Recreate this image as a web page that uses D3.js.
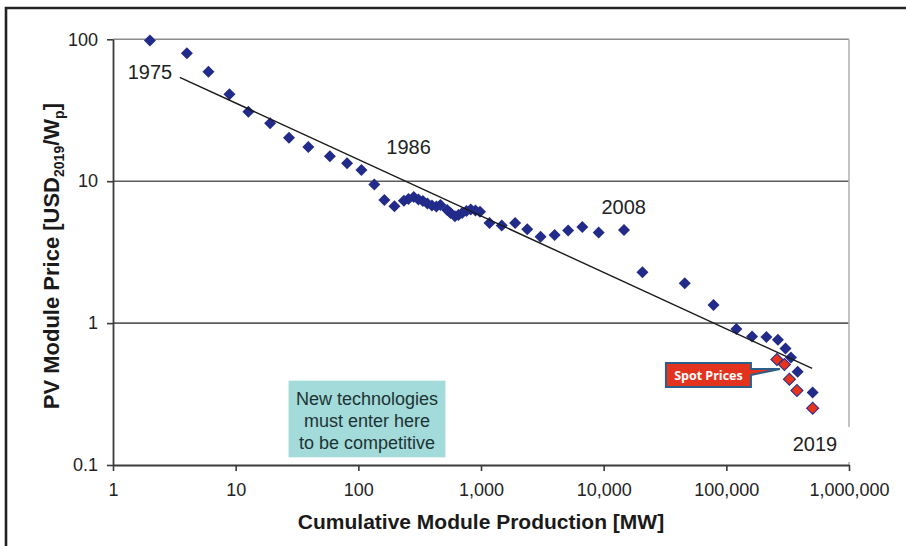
<!DOCTYPE html>
<html>
<head>
<meta charset="utf-8">
<script src="https://cdn.jsdelivr.net/npm/d3@7"></script>
<style>
  html, body { margin: 0; padding: 0; background: #fff; }
  svg { display: block; font-family: "Liberation Sans", Arial, sans-serif; }
</style>
</head>
<body>
<svg id="chart" width="906" height="546"></svg>
<script>
// Cumulative module production [MW] and module price [USD2019/Wp]
const production = [2, 4, 6, 8.9, 12.7, 19.1, 27.2, 39.1, 58.6, 80.9, 106, 135, 163, 197,
  235, 256, 283, 309, 336, 366, 398, 433, 467, 530, 564, 613, 655, 702, 761, 825, 902, 981,
  1173, 1476, 1898, 2383, 3060, 3981, 5131, 6700, 9103, 14640, 20700, 45840, 78630,
  120700, 162100, 212100, 263300, 303600, 336200, 381300, 505400];
const price = [98, 79.7, 59.1, 41.0, 30.9, 25.6, 20.2, 17.4, 15.0, 13.4, 12.0, 9.48, 7.37, 6.65,
  7.28, 7.49, 7.74, 7.43, 7.25, 6.96, 6.74, 6.63, 6.80, 6.27, 5.97, 5.66, 5.78, 5.97, 6.17, 6.31, 6.22, 6.10,
  5.08, 4.87, 5.08, 4.58, 4.06, 4.18, 4.49, 4.76, 4.35, 4.53, 2.28, 1.91, 1.34,
  0.909, 0.805, 0.798, 0.764, 0.662, 0.572, 0.454, 0.324];

// Spot market prices for the most recent years
const spotProduction = [258400, 297500, 326900, 376300, 505400];
const spotPrice = [0.554, 0.511, 0.402, 0.335, 0.251];

// Learning-curve fit (end points)
const fitProduction = [3.5, 500000];
const fitPrice = [54, 0.48];

// Axis ticks
const xTicks = [1, 10, 100, 1000, 10000, 100000, 1000000];
const xTickLabels = ["1", "10", "100", "1,000", "10,000", "100,000", "1,000,000"];
const yTicks = [0.1, 1, 10, 100];
const yTickLabels = ["0.1", "1", "10", "100"];

// Year annotations (anchored in data space)
const yearLabels = ["1975", "1986", "2008", "2019"];
const yearX = [2.0, 257, 14560, 527800];
const yearY = [58.8, 17.5, 6.61, 0.1406];

const svg = d3.select("#chart");
const plotLeft = 113, plotRight = 849, plotTop = 39.3, plotBottom = 465;

const x = d3.scaleLog().domain([1, 1e6]).range([plotLeft, plotRight]);
const y = d3.scaleLog().domain([0.1, 100]).range([plotBottom, plotTop]);

// Outer frame
svg.append("path")
  .attr("d", `M6,546 L6,8 L906,8`)
  .attr("fill", "none").attr("stroke", "#222").attr("stroke-width", 2.6);

// Horizontal gridlines
svg.append("g").selectAll("line").data([1, 10]).join("line")
  .attr("x1", plotLeft).attr("x2", plotRight)
  .attr("y1", d => y(d)).attr("y2", d => y(d))
  .attr("stroke", "#5c5c5c").attr("stroke-width", 1.6);
svg.append("line")
  .attr("x1", plotLeft).attr("x2", plotRight).attr("y1", y(100)).attr("y2", y(100))
  .attr("stroke", "#8a8a8a").attr("stroke-width", 1.6);
// Right plot border
svg.append("line")
  .attr("x1", plotRight).attr("x2", plotRight).attr("y1", y(100)).attr("y2", plotBottom)
  .attr("stroke", "#b4b4b4").attr("stroke-width", 1.6);

// Axes
const yAxis = d3.axisLeft(y).tickValues(yTicks)
  .tickFormat((d, i) => yTickLabels[i]).tickSize(6).tickPadding(9).tickSizeOuter(0);
const gy = svg.append("g").attr("transform", `translate(${plotLeft},0)`).call(yAxis);
const xAxis = d3.axisBottom(x).tickValues(xTicks)
  .tickFormat((d, i) => xTickLabels[i]).tickSize(6).tickPadding(12).tickSizeOuter(0);
const gx = svg.append("g").attr("transform", `translate(0,${plotBottom})`).call(xAxis);
[gx, gy].forEach(g => {
  g.select(".domain").attr("stroke", "#3a3a3a").attr("stroke-width", 1.8);
  g.selectAll(".tick line").attr("stroke", "#3a3a3a").attr("stroke-width", 1.6);
  g.selectAll(".tick text").attr("fill", "#222")
    .style("font-size", "18px").style("font-family", "'Liberation Sans', Arial, sans-serif");
});

// Callout box in the lower left
const boxX0 = x(27), boxX1 = x(513), boxY0 = y(0.393), boxY1 = y(0.1133);
svg.append("rect")
  .attr("x", boxX0).attr("y", boxY0)
  .attr("width", boxX1 - boxX0).attr("height", boxY1 - boxY0)
  .attr("fill", "#a3dada");
const boxText = ["New technologies", "must enter here", "to be competitive"];
svg.append("g").selectAll("text").data(boxText).join("text")
  .attr("x", (boxX0 + boxX1) / 2)
  .attr("y", (d, i) => boxY0 + 24 + i * 22)
  .attr("text-anchor", "middle")
  .attr("fill", "#1d3333")
  .style("font-size", "18px")
  .text(d => d);

// Diamond marker
const diamond = d3.symbol().type(d3.symbolSquare).size(72);

// Historic module prices
svg.append("g").selectAll("path").data(production).join("path")
  .attr("d", diamond)
  .attr("transform", (d, i) => `translate(${x(d)},${y(price[i])}) rotate(45)`)
  .attr("fill", "#222b8a");

// Learning-curve fit
svg.append("line")
  .attr("x1", x(fitProduction[0])).attr("y1", y(fitPrice[0]))
  .attr("x2", x(fitProduction[1])).attr("y2", y(fitPrice[1]))
  .attr("stroke", "#1a1a1a").attr("stroke-width", 1.4);

// Spot prices
svg.append("g").selectAll("path").data(spotProduction).join("path")
  .attr("d", diamond)
  .attr("transform", (d, i) => `translate(${x(d)},${y(spotPrice[i])}) rotate(45)`)
  .attr("fill", "#e8341c").attr("stroke", "#2a2f8a").attr("stroke-width", 1.1);

// "Spot Prices" callout, pointing at the spot price series
const tipX = x(273500), tipY = y(0.475);
const bx1 = tipX - 29, bx0 = bx1 - 85, by0 = tipY - 6, by1 = by0 + 24;
svg.append("path")
  .attr("d", `M${bx0},${by0} L${bx1},${by0} L${bx1},${by0 + 6} L${tipX},${tipY} L${bx1},${by0 + 12} L${bx1},${by1} L${bx0},${by1} Z`)
  .attr("fill", "#e3331f").attr("stroke", "#2b5f8a").attr("stroke-width", 2)
  .attr("stroke-linejoin", "miter");
svg.append("text")
  .attr("x", (bx0 + bx1) / 2).attr("y", by0 + 17)
  .attr("text-anchor", "middle").attr("fill", "#fff")
  .style("font-size", "12.5px").style("font-weight", "bold")
  .style("font-family", "'Open Sans', 'DejaVu Sans', sans-serif")
  .text("Spot Prices");

// Year labels (last one sits on a white patch over the border)
svg.append("rect")
  .attr("x", x(yearX[3]) - 26).attr("y", y(yearY[3]) - 17)
  .attr("width", 68).attr("height", 35).attr("fill", "#fff");
svg.append("g").selectAll("text").data(yearLabels).join("text")
  .attr("x", (d, i) => x(yearX[i]))
  .attr("y", (d, i) => y(yearY[i]))
  .attr("dy", "0.36em")
  .attr("text-anchor", "middle")
  .attr("fill", "#222")
  .style("font-size", "20px")
  .text(d => d);

// Axis titles
svg.append("text")
  .attr("x", (plotLeft + plotRight) / 2).attr("y", 529)
  .attr("text-anchor", "middle").attr("fill", "#1a1a1a")
  .style("font-size", "21px").style("font-weight", "bold")
  .text("Cumulative Module Production [MW]");

const yTitle = svg.append("text")
  .attr("transform", `translate(59,${(plotTop + plotBottom) / 2 + 4}) rotate(-90)`)
  .attr("text-anchor", "middle").attr("fill", "#1a1a1a")
  .style("font-size", "22px").style("font-weight", "bold");
yTitle.append("tspan").text("PV Module Price [USD");
yTitle.append("tspan").attr("dy", 5).style("font-size", "14px").text("2019");
yTitle.append("tspan").attr("dy", -5).text("/W");
yTitle.append("tspan").attr("dy", 5).style("font-size", "14px").text("p");
yTitle.append("tspan").attr("dy", -5).text("]");
</script>
</body>
</html>
